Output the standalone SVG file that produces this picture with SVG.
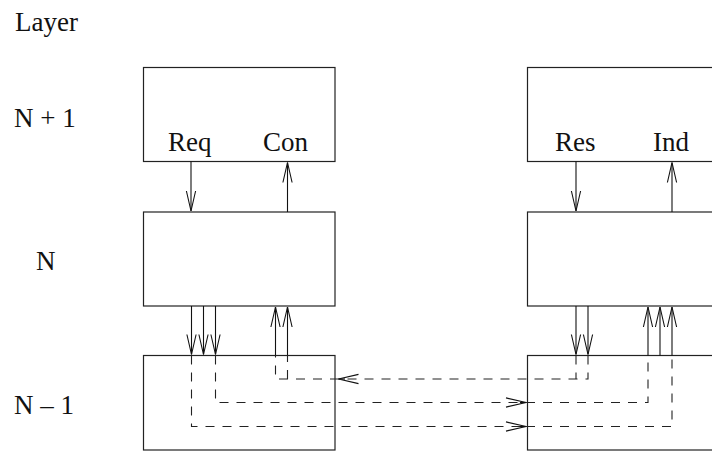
<svg xmlns="http://www.w3.org/2000/svg" width="712" height="451" viewBox="0 0 712 451">
  <style>
    .box { fill: #fff; stroke: #222; stroke-width: 1.2; }
    .lbl { font-family: "Liberation Serif", "Times New Roman", serif; font-size: 27px; fill: #111; }
    .sig { fill: none; stroke: #111; stroke-width: 1.1; }
    .dash { fill: none; stroke: #222; stroke-width: 1.1; stroke-dasharray: 9 8; }
  </style>
  <defs>
    <marker id="vhead" markerUnits="userSpaceOnUse" viewBox="-22 -6 24 12" markerWidth="24" markerHeight="12" refX="0" refY="0" orient="auto">
      <path d="M-20,-4.6 L0,0 L-20,4.6" fill="none" stroke="#111" stroke-width="1.1"/>
    </marker>
  </defs>

  <rect width="712" height="451" fill="#fff"/>

  <!-- layer captions -->
  <g id="captions" class="lbl">
    <text x="15" y="31">Layer</text>
    <text x="14" y="127">N + 1</text>
    <text x="36" y="270">N</text>
    <text x="14" y="414">N – 1</text>
  </g>

  <!-- left stack -->
  <g id="left-n1">
    <rect class="box" x="143.5" y="67.5" width="191.5" height="94"/>
    <text class="lbl" x="168" y="151">Req</text>
    <text class="lbl" x="263" y="151">Con</text>
  </g>
  <g id="left-n">
    <rect class="box" x="143.5" y="212" width="191.5" height="94"/>
  </g>
  <g id="left-n-1">
    <rect class="box" x="143.5" y="355.5" width="191.5" height="94.5"/>
  </g>

  <!-- right stack -->
  <g id="right-n1">
    <rect class="box" x="527.5" y="67.5" width="200" height="94"/>
    <text class="lbl" x="555" y="151">Res</text>
    <text class="lbl" x="653" y="151">Ind</text>
  </g>
  <g id="right-n">
    <rect class="box" x="527.5" y="212" width="200" height="94"/>
  </g>
  <g id="right-n-1">
    <rect class="box" x="527.5" y="355.5" width="200" height="94.5"/>
  </g>

  <g id="connectors">
    <!-- service primitives between N+1 and N -->
    <path class="sig" d="M191,161.5 V211" marker-end="url(#vhead)"/>
    <path class="sig" d="M287.5,212 V162.5" marker-end="url(#vhead)"/>
    <path class="sig" d="M576,161.5 V211" marker-end="url(#vhead)"/>
    <path class="sig" d="M672,212 V162.5" marker-end="url(#vhead)"/>

    <!-- between N and N-1 -->
    <path class="sig" d="M191.5,306 V354.5" marker-end="url(#vhead)"/>
    <path class="sig" d="M203.5,306 V354.5" marker-end="url(#vhead)"/>
    <path class="sig" d="M215.5,306 V354.5" marker-end="url(#vhead)"/>
    <path class="sig" d="M275.5,355.5 V307" marker-end="url(#vhead)"/>
    <path class="sig" d="M287.5,355.5 V307" marker-end="url(#vhead)"/>
    <path class="sig" d="M576,306 V354.5" marker-end="url(#vhead)"/>
    <path class="sig" d="M588,306 V354.5" marker-end="url(#vhead)"/>
    <path class="sig" d="M648,355.5 V307" marker-end="url(#vhead)"/>
    <path class="sig" d="M660,355.5 V307" marker-end="url(#vhead)"/>
    <path class="sig" d="M672,355.5 V307" marker-end="url(#vhead)"/>

    <!-- peer flows through layer N-1 -->
    <path class="dash" d="M588,355.5 V379 H339"/>
    <path class="dash" d="M576,355.5 V379"/>
    <path class="sig" d="M345,379 H338.5" marker-end="url(#vhead)"/>
    <path class="dash" d="M339,379 H275.5 V355.5"/>
    <path class="dash" d="M287.5,379 V355.5"/>

    <path class="dash" d="M215.5,355.5 V402.5 H526"/>
    <path class="sig" d="M520,402.5 H526" marker-end="url(#vhead)"/>
    <path class="dash" d="M526,402.5 H648 V355.5"/>

    <path class="dash" d="M191.5,355.5 V426.5 H526"/>
    <path class="sig" d="M520,426.5 H526" marker-end="url(#vhead)"/>
    <path class="dash" d="M526,426.5 H672 V355.5"/>
  </g>
</svg>
